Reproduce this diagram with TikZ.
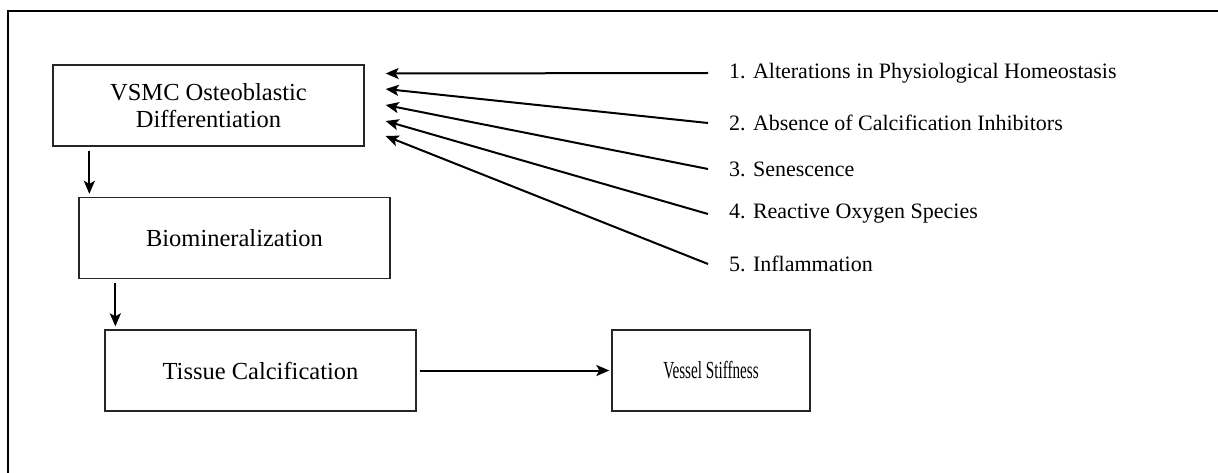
\documentclass[tikz,border=0pt]{standalone}
\usepackage{fontspec}
\setmainfont{Liberation Serif}
\usetikzlibrary{arrows.meta,calc}
\begin{document}
\begin{tikzpicture}[x=1pt,y=-1pt,
  box/.style={draw=black!85,line width=1.3pt,minimum height=81pt,inner sep=0pt,
    font=\fontsize{24.5}{27}\selectfont,align=center},
  factor/.style={anchor=west,inner sep=0pt,font=\fontsize{22}{24}\selectfont},
  arr/.style={line width=2pt,-{Stealth[length=13pt,width=11pt,inset=3pt]}}]
\useasboundingbox (0,0) rectangle (1218,473);
\draw[line width=2.2pt] (8,474) -- (8,11) -- (1219,11);
\node[box,minimum width=311pt] (b1) at (208.5,105.5) {VSMC Osteoblastic\\Differentiation};
\node[box,minimum width=311pt] (b2) at (234.5,238) {Biomineralization};
\node[box,minimum width=311pt] (b3) at (260.5,370.5) {Tissue Calcification};
\node[box,minimum width=198pt] (b4) at (711,370.5) {\scalebox{0.62}[1]{Vessel Stiffness}};
\node[factor] (f1) at (729,73) {1. Alterations in Physiological Homeostasis};
\node[factor] (f2) at (729,123) {2. Absence of Calcification Inhibitors};
\node[factor] (f3) at (729,169) {3. Senescence};
\node[factor] (f4) at (729,214) {4. Reactive Oxygen Species};
\node[factor] (f5) at (729,264) {5. Inflammation};
\coordinate (t1) at ($(b1.east)+(21,-32)$);
\coordinate (t2) at ($(b1.east)+(21,-16.5)$);
\coordinate (t3) at ($(b1.east)+(21,-0.5)$);
\coordinate (t4) at ($(b1.east)+(21,15.5)$);
\coordinate (t5) at ($(b1.east)+(21,30.5)$);
\draw[arr] ([xshift=-21pt]f1.west) -- (t1);
\draw[arr] ([xshift=-21pt]f2.west) -- (t2);
\draw[arr] ([xshift=-21pt]f3.west) -- (t3);
\draw[arr] ([xshift=-21pt]f4.west) -- (t4);
\draw[arr] ([xshift=-21pt]f5.west) -- (t5);
\draw[arr,shorten <=4pt,shorten >=3pt] ([xshift=37pt]b1.south west) -- ([xshift=37pt]b1.south west |- b2.north);
\draw[arr,shorten <=4pt,shorten >=3pt] ([xshift=37pt]b2.south west) -- ([xshift=37pt]b2.south west |- b3.north);
\draw[arr,shorten <=3pt,shorten >=2pt] (b3.east) -- (b4.west);
\end{tikzpicture}
\end{document}
